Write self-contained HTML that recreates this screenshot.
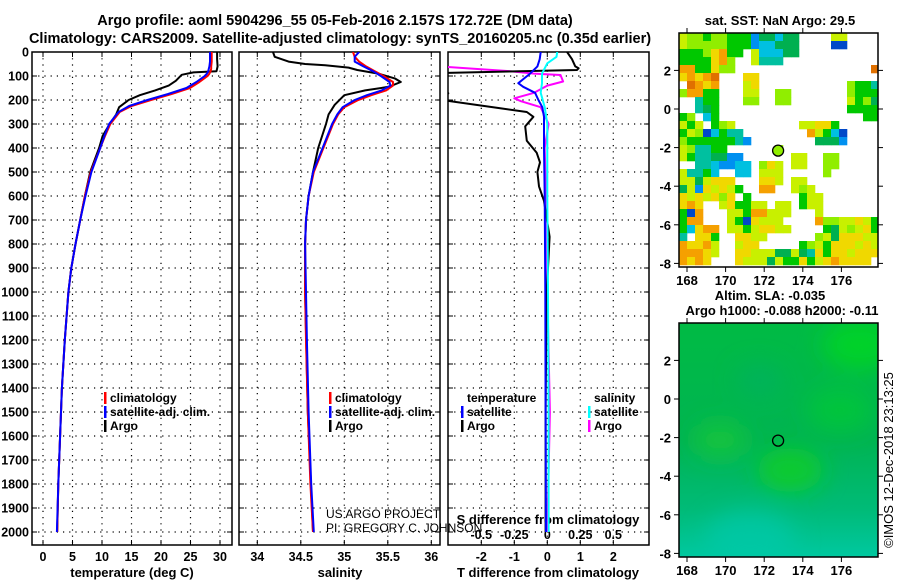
<!DOCTYPE html>
<html><head><meta charset="utf-8"><style>
body{margin:0;background:#fff;}
svg{display:block;font-family:"Liberation Sans",Arial,sans-serif;}
</style></head><body>
<svg id="chart" width="900" height="580" viewBox="0 0 900 580">
<defs>
<clipPath id="c1"><rect x="32" y="52" width="200" height="493"/></clipPath>
<clipPath id="c2"><rect x="239" y="52" width="201" height="493"/></clipPath>
<clipPath id="c3"><rect x="448" y="52" width="201" height="493"/></clipPath>
<clipPath id="cm1"><rect x="679" y="33" width="199" height="234"/></clipPath>
<clipPath id="cm2"><rect x="679" y="323" width="199" height="234"/></clipPath>
<linearGradient id="slaG" x1="0" y1="0" x2="0" y2="1">
<stop offset="0" stop-color="#00bb44"/><stop offset="0.5" stop-color="#00b452"/><stop offset="0.8" stop-color="#00bb78"/><stop offset="1" stop-color="#00c8a0"/></linearGradient>
<filter id="blur" x="-50%" y="-50%" width="200%" height="200%"><feGaussianBlur stdDeviation="12"/></filter>
</defs>
<g id="root"></g>
</svg>
<script>
// ---------- data ----------
const depthTicks = [0,100,200,300,400,500,600,700,800,900,1000,1100,1200,1300,1400,1500,1600,1700,1800,1900,2000];
const tempTicks = [0,5,10,15,20,25,30];
const salTicks = [34,34.5,35,35.5,36];
const tdiffTicks = [-2,-1,0,1,2];
const sdiffTicks = [-0.5,-0.25,0,0.25,0.5];
const sdiffLabels = ["-0.5","-0.25","0","0.25","0.5"];

const depthT = [0,20,40,60,70,80,90,100,125,150,175,200,225,250,300,350,400,500,600,700,800,900,1000,1200,1400,1600,1800,2000];
const climT = [28.6,28.6,28.6,28.5,28.5,28.4,28.2,27.9,26.5,24.9,21.8,18.3,15.0,13.0,11.4,10.5,9.7,8.1,7.1,6.3,5.5,4.8,4.3,3.7,3.2,2.9,2.6,2.4];
const satT = [28.3,28.3,28.3,28.2,28.1,28.0,27.8,27.4,26.0,24.3,21.2,17.7,14.6,12.8,11.2,10.4,9.7,8.2,7.2,6.3,5.5,4.8,4.3,3.7,3.2,2.9,2.6,2.35];
const argoDepthT = [0,30,60,80,85,95,120,140,160,180,200,230,260,300,350,400,500,600,700,800,900,1000,1200,1400,1600,1800,2000];
const argoT = [29.5,29.5,29.6,29.4,25.5,23.5,22.5,21.3,19.0,16.4,14.5,12.9,12.4,11.3,10.1,9.5,8.0,7.1,6.3,5.5,4.8,4.3,3.7,3.2,2.9,2.6,2.4];

const depthS = [0,20,40,60,80,100,125,140,160,180,200,230,260,300,400,500,600,700,800,1000,1200,1500,1800,2000];
const climS = [35.10,35.12,35.17,35.25,35.35,35.45,35.56,35.56,35.48,35.31,35.16,35.0,34.93,34.87,34.76,34.65,34.59,34.56,34.55,34.55,34.56,34.58,34.61,34.64];
const satS = [35.17,35.12,35.12,35.22,35.33,35.42,35.52,35.53,35.43,35.26,35.12,34.98,34.92,34.86,34.75,34.64,34.59,34.56,34.55,34.56,34.57,34.59,34.62,34.65];
const argoDepthS = [0,20,40,50,55,65,75,90,110,125,145,160,180,220,260,300,400,500,600,700,800,1000,1500,2000];
const argoS = [34.18,34.2,34.36,34.55,34.78,35.05,35.15,35.39,35.58,35.65,35.51,35.24,35.0,34.89,34.82,34.79,34.70,34.64,34.59,34.56,34.55,34.55,34.58,34.64];

const satTdDepth = [0,30,60,90,110,130,145,170,200,230,270,400,600,1000,1500,2000];
const satTd = [-0.2,-0.23,-0.3,-0.52,-0.7,-0.88,-0.73,-0.37,-0.27,-0.15,-0.1,-0.1,-0.08,-0.06,-0.05,-0.04];
const argoTdDepth = [0,30,60,68,75,90,170,172,200,235,250,270,310,370,420,460,500,560,620,770,900,1000,1500,2000];
const argoTd = [0.6,0.75,0.85,0.95,0.9,-4,-4,-3,-3.2,-1.4,-0.62,-0.42,-0.67,-0.62,-0.32,-0.22,-0.3,-0.25,-0.1,0.07,0.02,-0.02,-0.05,-0.05];
const satSdDepth = [0,20,47,90,130,170,230,300,600,1000,1500,2000];
const satSd = [0.075,0.07,0,-0.04,-0.04,-0.05,-0.02,0,0,0.005,0.01,0.01];
const argoSdDepth = [0,50,55,80,90,96,123,140,170,193,205,230,300,400,600,1000,1500,2000];
const argoSd = [-1.0,-1.0,-0.95,-0.28,-0.1,0.1,0.12,0.0,-0.1,-0.25,-0.2,-0.05,0.01,-0.02,-0.01,0,0.02,0];

const lonTicks = [168,170,172,174,176];
const latTicks = [2,0,-2,-4,-6,-8];
const argoLon = 172.72;
const argoLat = -2.157;
const sstRows = [
"lLLgLLgggbGGcGG....ll....",
"lLLLLLgggbccGGG....BB....",
"gggLyogg.lcccGG..........",
"ggggyoL..lttt............",
"ooggyLL.................r",
"yoyor...yy...............",
".royo...ly...........Lggt",
"Loogg...ll..LL.......Lggg",
"..tgg...LL..LL.......lgLG",
"..tGg................gggg",
"gL.cg..................gg",
"lgl.gLl........llyyg.....",
"glLBcgtt........olgcB....",
"Lggggggtb........GGGb....",
"lLttgg......L............",
"lgttGGbb......ll..LL.....",
"..ttcbbcc.Lyl.ll..LL.....",
"lttgc..cc.lll.....L......",
"llGlyyy...yyl.ll.........",
"Glbylylg..oo..lLl........",
"ylylyLy.g......gll.......",
"yoy..lyggll.ll.gll.......",
"gBo...llgoolll...l.......",
"goo...lgBylll....oLLllylg",
"gcyoo.llglyyll....gGlLlyg",
"t.yyg..yyll......LlGyyyll",
"oyyol..lyy.....gLlgyyylyl",
"oooyl..yylllGGlGtygyylyyy",
"oyoy...ylllGlggyglyoyyyy."
];
const sstColors = {r:"#e07000",o:"#f5a000",y:"#f0d800",l:"#c8f000",L:"#90ee00",g:"#00c800",G:"#00b050",t:"#00c0a0",c:"#00c0e0",b:"#0090f0",B:"#0048c8"};

// ---------- helpers ----------
const NS="http://www.w3.org/2000/svg";
const root=document.getElementById('root');
function mk(tag,attrs,parent){const e=document.createElementNS(NS,tag);for(const k in attrs)e.setAttribute(k,attrs[k]);(parent||root).appendChild(e);return e;}
function txt(s,x,y,size,anchor,bold,parent){const t=mk('text',{x:x,y:y,'font-size':size,'text-anchor':anchor||'start','font-weight':bold?'bold':'normal'},parent);t.textContent=s;return t;}
const yD=d=>52+d*0.24;
const xT=v=>43+v*5.9;
const xS=v=>257.3+(v-34)*87;
const xTd=v=>547.3+v*33;
const xSd=v=>547.3+v*132;

function panel(x0,x1,name,gridXs){
  const g=mk('g',{});
  
  
  depthTicks.forEach(d=>{if(d>0)mk('line',{x1:x0,x2:x1,y1:yD(d),y2:yD(d),stroke:'#000','stroke-width':1.2,'stroke-dasharray':'1.2,5'},g);
    mk('line',{x1:x0,x2:x0+5,y1:yD(d),y2:yD(d),stroke:'#000','stroke-width':1},g);
    mk('line',{x1:x1-5,x2:x1,y1:yD(d),y2:yD(d),stroke:'#000','stroke-width':1},g);});
  gridXs.forEach(x=>{mk('line',{x1:x,x2:x,y1:52,y2:545,stroke:'#000','stroke-width':1.2,'stroke-dasharray':'1.2,5'},g);
    mk('line',{x1:x,x2:x,y1:545,y2:540,stroke:'#000','stroke-width':1},g);mk('line',{x1:x,x2:x,y1:52,y2:57,stroke:'#000','stroke-width':1},g);});
  mk('rect',{x:x0,y:52,width:x1-x0,height:493,fill:'none',stroke:'#000','stroke-width':1.5},g);
  return g;
}
function line(ds,vs,fx,color,clip,name,w){
  const pts=ds.map((d,i)=>fx(vs[i]).toFixed(1)+','+yD(d).toFixed(1)).join(' ');
  const p=mk('polyline',{points:pts,fill:'none',stroke:color,'stroke-width':w||2,'clip-path':'url(#'+clip+')','stroke-linejoin':'round'});
  
  
  return p;
}

// titles
let t=txt('Argo profile: aoml 5904296_55 05-Feb-2016 2.157S 172.72E (DM data)',335,25,14.5,'middle',true);


t=txt('Climatology: CARS2009. Satellite-adjusted climatology: synTS_20160205.nc (0.35d earlier)',340,43,14.5,'middle',true);



// depth labels
depthTicks.forEach(d=>{const e=txt(String(d),29,yD(d)+4.5,12.5,'end',true);

});

// panel 1
panel(32,232,'temperature-panel',tempTicks.map(xT));
tempTicks.forEach(v=>{const e=txt(String(v),xT(v),561,12.5,'middle',true);

});
t=txt('temperature (deg C)',132,577,13,'middle',true);


line(argoDepthT,argoT,xT,'#000000','c1','temperature-argo-line');
line(depthT,climT,xT,'#ff0000','c1','temperature-climatology-line');
line(depthT,satT,xT,'#0000ff','c1','temperature-satellite-line');

// panel 2
panel(239,440,'salinity-panel',salTicks.map(xS));
salTicks.forEach(v=>{const e=txt(String(v),xS(v),561,12.5,'middle',true);

});
t=txt('salinity',340,577,13,'middle',true);


line(argoDepthS,argoS,xS,'#000000','c2','salinity-argo-line');
line(depthS,climS,xS,'#ff0000','c2','salinity-climatology-line');
line(depthS,satS,xS,'#0000ff','c2','salinity-satellite-line');

// panel 3
panel(448,649,'difference-panel',tdiffTicks.map(xTd));
tdiffTicks.forEach(v=>{const e=txt(String(v),xTd(v),561,12.5,'middle',true);

});
sdiffTicks.forEach((v,i)=>{const e=txt(sdiffLabels[i],xSd(v),539,12.5,'middle',true);

});
t=txt('T difference from climatology',548,577,13,'middle',true);


t=txt('S difference from climatology',548,524,13,'middle',true);


line(argoSdDepth,argoSd,xSd,'#ff00ff','c3','s-diff-argo-line');
line(argoTdDepth,argoTd,xTd,'#000000','c3','t-diff-argo-line');
line(satTdDepth,satTd,xTd,'#0000ff','c3','t-diff-satellite-line');
line(satSdDepth,satSd,xSd,'#00ffff','c3','s-diff-satellite-line');

// legends
function legend(x,y,color,label,name){const g=mk('g',{});


mk('rect',{x:x,y:y-10,width:2.5,height:12,fill:color},g);txt(label,x+6,y,12,'start',true,g);}
legend(104,402,'#ff0000','climatology','legend-climatology-temperature');
legend(104,416,'#0000ff','satellite-adj. clim.','legend-satellite-temperature');
legend(104,430,'#000000','Argo','legend-argo-temperature');
legend(329,402,'#ff0000','climatology','legend-climatology-salinity');
legend(329,416,'#0000ff','satellite-adj. clim.','legend-satellite-salinity');
legend(329,430,'#000000','Argo','legend-argo-salinity');
t=txt('temperature',467,402,12,'start',true);


legend(461,416,'#0000ff','satellite','legend-t-diff-satellite');
legend(461,430,'#000000','Argo','legend-t-diff-argo');
t=txt('salinity',594,402,12,'start',true);


legend(588,416,'#00ffff','satellite','legend-s-diff-satellite');
legend(588,430,'#ff00ff','Argo','legend-s-diff-argo');
t=txt('US ARGO PROJECT',326,518,12,'start',false);


t=txt('PI: GREGORY C. JOHNSON',326,532,12,'start',false);



// maps
const mX=lon=>687+(lon-168)*19.3;
function mapAxes(y0,y1,latZero,name){
  const g=mk('g',{});
  
  
  mk('rect',{x:679,y:y0,width:199,height:y1-y0,fill:'none',stroke:'#000','stroke-width':1.5},g);
  lonTicks.forEach(l=>{mk('line',{x1:mX(l),x2:mX(l),y1:y1,y2:y1+5,stroke:'#000'},g);mk('line',{x1:mX(l),x2:mX(l),y1:y0,y2:y0-5,stroke:'#000'},g);
    txt(String(l),mX(l),y1+18,13,'middle',true,g);});
  latTicks.forEach(l=>{const y=latZero-l*19.3;mk('line',{x1:674,x2:679,y1:y,y2:y,stroke:'#000'},g);mk('line',{x1:878,x2:883,y1:y,y2:y,stroke:'#000'},g);
    txt(String(l),671,y+5,13,'end',true,g);});
}
// SST map
const sg=mk('g',{'clip-path':'url(#cm1)'});


sstRows.forEach((row,r)=>{for(let c=0;c<row.length;c++){const ch=row[c];if(!sstColors[ch])continue;
  const cell=mk('rect',{x:679+c*8,y:33+r*8,width:8.3,height:8.3,fill:sstColors[ch]},sg);
  
  }});
mk('circle',{cx:mX(argoLon),cy:109-argoLat*19.3,r:5.5,fill:'#90ee00',stroke:'#000','stroke-width':1.3});
mapAxes(33,267,109,'sst-map-axes');
t=txt('sat. SST: NaN Argo: 29.5',780,25,13,'middle',true);



// SLA map
const slg=mk('g',{'clip-path':'url(#cm2)'});


mk('rect',{x:679,y:323,width:199,height:234,fill:'url(#slaG)'},slg);
const blobs=[[860,345,25,'#00d820'],[790,470,22,'#10d020'],[720,440,18,'#18c838'],[840,410,22,'#00c838'],[760,380,15,'#00b060'],[750,540,30,'#00c8a8']];
const bg=mk('g',{filter:'url(#blur)'},slg);
blobs.forEach(b=>mk('ellipse',{cx:b[0],cy:b[1],rx:b[2]*1.5,ry:b[2],fill:b[3],opacity:0.8},bg));
mk('circle',{cx:mX(argoLon),cy:399-argoLat*19.3,r:5.5,fill:'none',stroke:'#000','stroke-width':1.3});
mapAxes(323,557,399,'sla-map-axes');
t=txt('Altim. SLA: -0.035',770,300,13,'middle',true);


t=txt('Argo h1000: -0.088 h2000: -0.11',782,315,13,'middle',true);


t=txt('©IMOS 12-Dec-2018 23:13:25',0,0,13,'middle',false);
t.setAttribute('transform','translate(893,460) rotate(-90)');


</script>
</body></html>
